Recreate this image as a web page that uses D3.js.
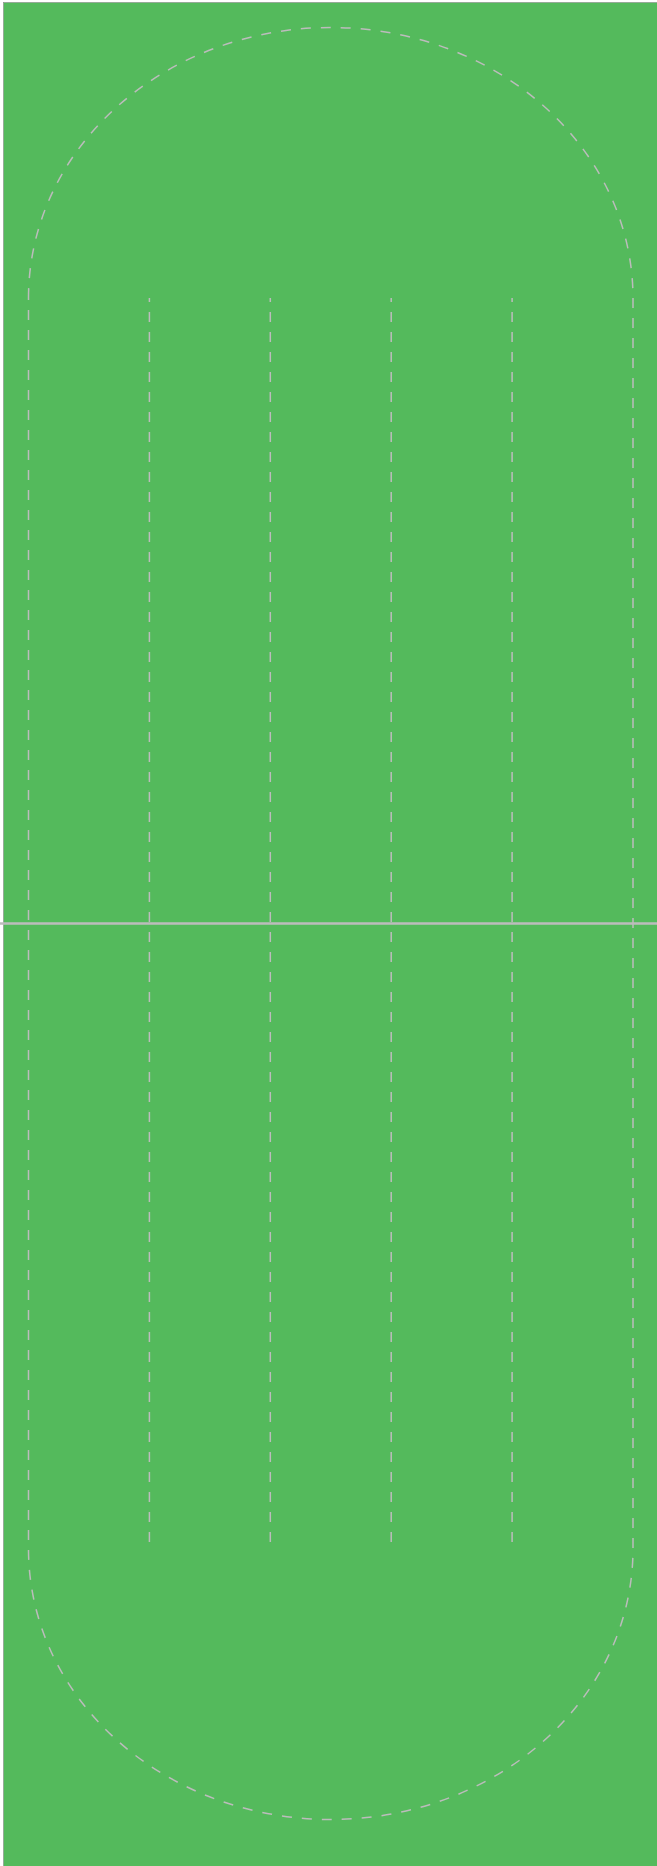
<!DOCTYPE html>
<html>
<head>
<meta charset="utf-8">
<script src="https://cdn.jsdelivr.net/npm/d3@7"></script>
<style>
html,body{margin:0;padding:0;background:#fff;}
svg{display:block;}
</style>
</head>
<body>
<svg id="chart" width="657" height="1866"></svg>
<script>
// Field layout data (lanes across, length along)
const laneCount = 5;
const laneDividers = [1, 2, 3, 4];
const fieldLength = [0, 100];       // straight section from 0 to 100 units
const midLine = [50];

const W = 657, H = 1866;
const svg = d3.select("#chart");

const x = d3.scaleLinear().domain([0, laneCount]).range([28.5, 633]);
const y = d3.scaleLinear().domain(fieldLength).range([298, 1549]);

const green = "#54ba5c", lineCol = "#bcbcbc";

svg.append("rect")
  .attr("x", 3.5).attr("y", 2.5)
  .attr("width", W).attr("height", H)
  .attr("fill", green)
  .attr("stroke", "#8a8a8a").attr("stroke-width", 0.6);

// stadium outline with elliptical ends
const rx = (x(laneCount) - x(0)) / 2;
const ry = 270.5;
const p = d3.path();
p.moveTo(x(0), y(0));
p.lineTo(x(0), y(0)); 
const outline = `M${x(0)},${y(0)} A${rx},${ry} 0 0 1 ${x(laneCount)},${y(0)} L${x(laneCount)},${y(100)} A${rx},${ry} 0 0 1 ${x(0)},${y(100)} Z`;
svg.append("path")
  .attr("d", outline)
  .attr("fill", "none")
  .attr("stroke", lineCol)
  .attr("stroke-width", 1.5)
  .attr("stroke-dasharray", "10,10");

// lane dividers
svg.selectAll("line.lane")
  .data(laneDividers)
  .join("line")
  .attr("class", "lane")
  .attr("x1", d => x(d)).attr("x2", d => x(d))
  .attr("y1", y(0)).attr("y2", y(100))
  .attr("stroke", lineCol)
  .attr("stroke-width", 1.5)
  .attr("stroke-dasharray", "10,10")
  .attr("stroke-dashoffset", 6);

// mid line
svg.selectAll("line.mid")
  .data(midLine)
  .join("line")
  .attr("class", "mid")
  .attr("x1", 0).attr("x2", W)
  .attr("y1", d => y(d)).attr("y2", d => y(d))
  .attr("stroke", lineCol)
  .attr("stroke-width", 2.5);
</script>
</body>
</html>
